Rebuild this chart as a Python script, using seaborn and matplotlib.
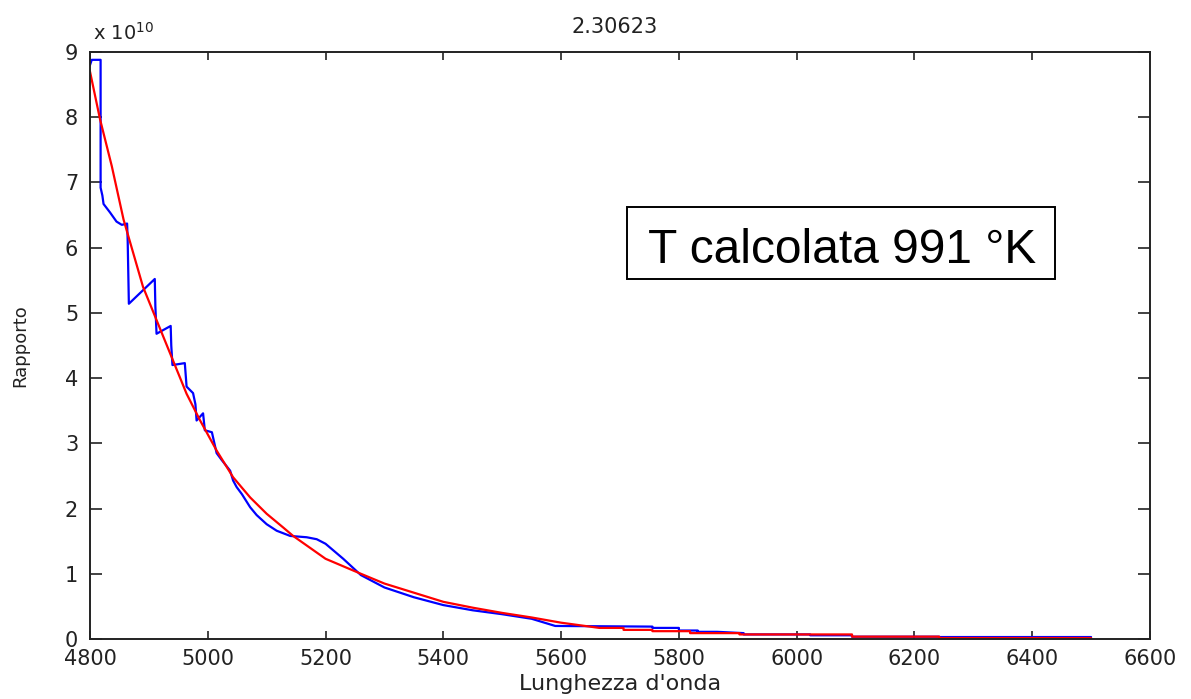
import pandas as pd
import matplotlib
matplotlib.use("Agg")
import matplotlib.pyplot as plt
import seaborn as sns
from matplotlib.patches import Rectangle

# measured ratio (blue), values in units of 1e10
blue_x = [4800, 4803, 4818, 4818, 4821, 4823, 4834, 4845, 4854, 4863, 4864, 4866,
          4910, 4911, 4913, 4937, 4938, 4940, 4961, 4964, 4975, 4979, 4981, 4992,
          4995, 5007, 5015, 5024, 5038, 5043, 5049, 5058, 5072, 5083, 5100, 5117,
          5140, 5168, 5185, 5200, 5230, 5260, 5300, 5350, 5400, 5450, 5500, 5550,
          5590, 5755, 5755, 5800, 5800, 5832, 5832, 5865, 5910, 5910, 6023, 6023,
          6094, 6094, 6242, 6242, 6500]
blue_y = [8.80, 8.88, 8.88, 6.92, 6.80, 6.67, 6.54, 6.40, 6.35, 6.37, 6.10, 5.14,
          5.52, 5.10, 4.68, 4.80, 4.50, 4.20, 4.23, 3.87, 3.77, 3.60, 3.35, 3.46,
          3.20, 3.17, 2.85, 2.74, 2.58, 2.43, 2.33, 2.22, 2.02, 1.90, 1.76, 1.66,
          1.58, 1.56, 1.53, 1.46, 1.23, 0.98, 0.79, 0.64, 0.52, 0.44, 0.38, 0.31,
          0.20, 0.19, 0.17, 0.17, 0.13, 0.13, 0.11, 0.11, 0.09, 0.07, 0.07, 0.057,
          0.057, 0.035, 0.035, 0.03, 0.03]

# fitted curve (red)
red_x = [4800, 4817, 4837, 4857, 4890, 4936, 4964, 4987, 5015, 5043, 5072, 5100,
         5128, 5145, 5200, 5260, 5300, 5350, 5400, 5450, 5500, 5550, 5600, 5665,
         5706, 5706, 5755, 5755, 5819, 5819, 5903, 5903, 6094, 6094, 6242, 6242, 6500]
red_y = [8.70, 7.97, 7.25, 6.43, 5.40, 4.38, 3.76, 3.35, 2.89, 2.48, 2.17, 1.92,
         1.71, 1.58, 1.23, 1.00, 0.85, 0.71, 0.57, 0.48, 0.40, 0.33, 0.25, 0.17,
         0.17, 0.14, 0.14, 0.12, 0.12, 0.09, 0.09, 0.07, 0.07, 0.036, 0.036, 0.015, 0.015]

x_ticks = [4800, 5000, 5200, 5400, 5600, 5800, 6000, 6200, 6400, 6600]
y_ticks = [0, 1, 2, 3, 4, 5, 6, 7, 8, 9]

title_text = "2.30623"
box_text = "T calcolata 991 °K"

sns.set_style("white")
plt.rcParams['font.family'] = ['DejaVu Sans']

blue = pd.DataFrame({'x': blue_x, 'y': blue_y})
red = pd.DataFrame({'x': red_x, 'y': red_y})

fig = plt.figure(figsize=(11.91, 6.99), dpi=100)
ax = fig.add_axes([90 / 1191, 1 - 639 / 699, 1060 / 1191, 587 / 699])

sns.lineplot(data=blue, x='x', y='y', ax=ax, color='#0000ff', linewidth=1.6,
             estimator=None, sort=False)
sns.lineplot(data=red, x='x', y='y', ax=ax, color='#ff0000', linewidth=1.6,
             estimator=None, sort=False)

ax.set_xlim(4800, 6600)
ax.set_ylim(0, 9)
ax.set_xticks(x_ticks)
ax.set_yticks(y_ticks)
ax.set_xticklabels([str(t) for t in x_ticks])
ax.set_yticklabels([str(t) for t in y_ticks])
ax.tick_params(axis='x', direction='in', length=6, width=1.2, pad=7,
               labelsize=15, colors='#222222', top=True, bottom=True)
ax.tick_params(axis='y', direction='in', length=8.5, width=1.2, pad=8.5,
               labelsize=15, colors='#222222', left=True, right=True)
for s in ax.spines.values():
    s.set_color('#222222')
    s.set_linewidth(1.4)

ax.set_xlabel("Lunghezza d'onda", fontsize=16, color='#222222', labelpad=4)
ax.set_ylabel("Rapporto", fontsize=13, color='#222222')
ax.yaxis.set_label_coords(-0.057, 0.5)

# boxed annotation
ax.add_patch(Rectangle((0.5066, 0.6133), 0.4038, 0.1227, transform=ax.transAxes,
                       fill=False, edgecolor='black', linewidth=1.4, zorder=5))
ax.text(0.5264, 0.6405, box_text, transform=ax.transAxes, ha='left', va='baseline',
        fontsize=34.5, family='Liberation Sans', color='black', zorder=6)

fig.text(615 / 1191, 1 - 33 / 699, title_text, ha='center', va='baseline',
         fontsize=15, color='#222222')
fig.text(93 / 1191, 1 - 40 / 699, r"x 10$^{10}$", ha='left', va='baseline',
         fontsize=14, color='#222222')

fig.savefig("out.png", dpi=100, facecolor='white')
